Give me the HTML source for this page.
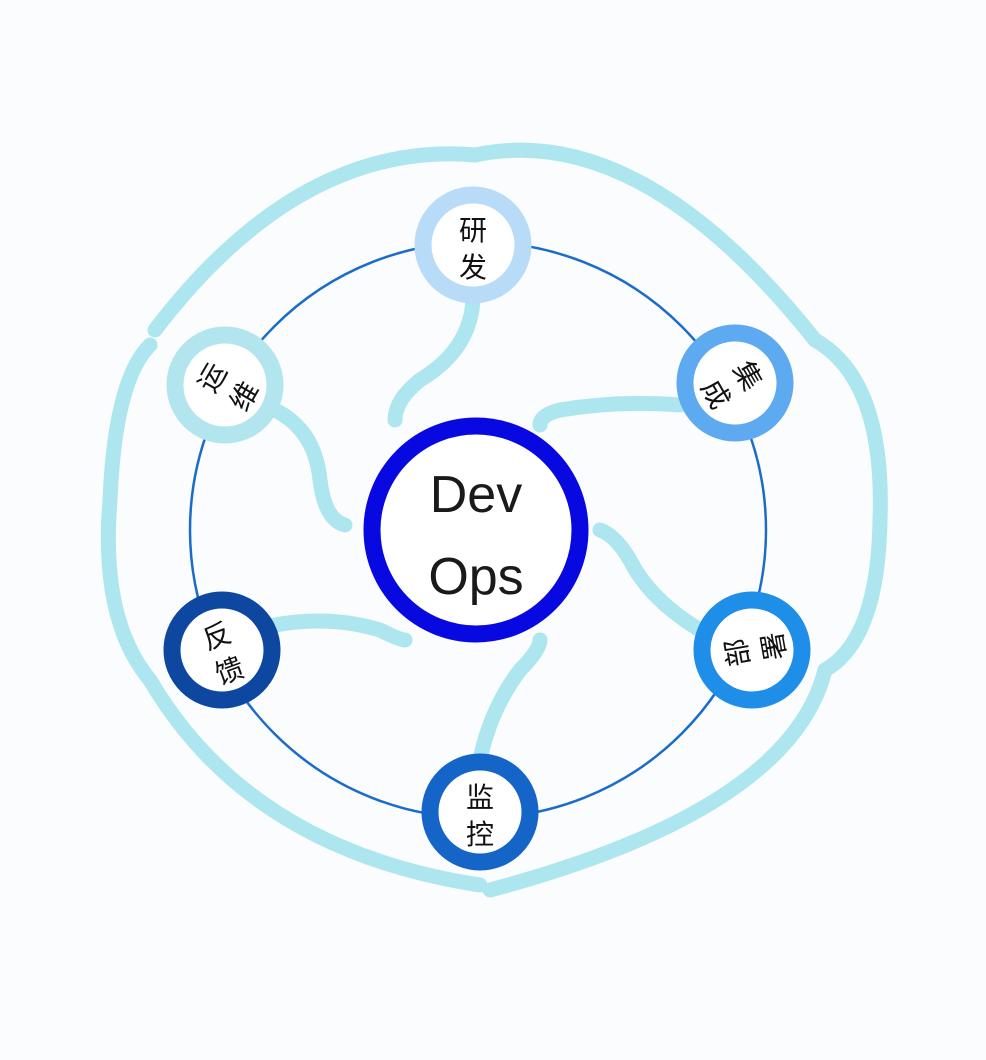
<!DOCTYPE html><html><head><meta charset="utf-8"><style>
body{margin:0;background:#fafcfe;}
svg{display:block}
text{font-family:"Liberation Sans","Noto Sans CJK SC",sans-serif;}
</style></head><body>
<svg width="986" height="1060" viewBox="0 0 986 1060">
<rect width="986" height="1060" fill="#fafcfe"/>
<g fill="none" stroke="#aee6f0" stroke-width="15" stroke-linecap="round">
<path d="M475 155 Q300 140 155 330"/>
<path d="M475 155 Q640 120 815 340"/>
<path d="M815 340 Q885 380 880 520 Q878 640 825 670"/>
<path d="M825 670 Q790 810 490 890"/>
<path d="M480 885 Q250 850 150 680"/>
<path d="M150 680 Q100 620 110 500 Q115 380 150 345"/>
<path d="M473 300 Q470 350 420 380 Q395 400 395 420"/>
<path d="M680 405 Q620 400 560 410 Q540 415 540 425"/>
<path d="M700 630 Q650 600 630 560 Q615 535 600 530"/>
<path d="M480 760 Q490 710 520 670 Q540 650 540 640"/>
<path d="M275 625 Q330 615 380 630 Q400 640 405 640"/>
<path d="M275 410 Q315 430 320 480 Q325 520 345 525"/>
</g>
<circle cx="478" cy="530" r="288" fill="none" stroke="#1a6cc8" stroke-width="2.5"/>
<circle cx="476" cy="530" r="104" fill="#fff" stroke="#0808e0" stroke-width="17"/>
<text x="476" y="512" font-size="52" text-anchor="middle" fill="#1a1a1a">Dev</text>
<text x="476" y="594" font-size="52" text-anchor="middle" fill="#1a1a1a">Ops</text>
<g font-size="28" fill="#111" text-anchor="middle">
<g transform="translate(473,245)"><circle r="50" fill="#fff" stroke="#b8dcf8" stroke-width="17"/><text y="-5">研</text><text y="32">发</text></g>
<g transform="translate(735,383)"><circle r="50" fill="#fff" stroke="#5eaaf0" stroke-width="17"/><g transform="rotate(60)"><text y="-5">集</text><text y="32">成</text></g></g>
<g transform="translate(752,650)"><circle r="50" fill="#fff" stroke="#1e8ee8" stroke-width="17"/><g transform="rotate(-100)"><text y="-5">部</text><text y="32">署</text></g></g>
<g transform="translate(480,812)"><circle r="50" fill="#fff" stroke="#1565c8" stroke-width="17"/><text y="-5">监</text><text y="32">控</text></g>
<g transform="translate(222,650)"><circle r="50" fill="#fff" stroke="#0d47a0" stroke-width="17"/><g transform="rotate(-20)"><text y="-5">反</text><text y="32">馈</text></g></g>
<g transform="translate(225,385)"><circle r="50" fill="#fff" stroke="#b3e5ee" stroke-width="17"/><g transform="rotate(-60)"><text y="-5">运</text><text y="32">维</text></g></g>
</g>
</svg>
</body></html>
